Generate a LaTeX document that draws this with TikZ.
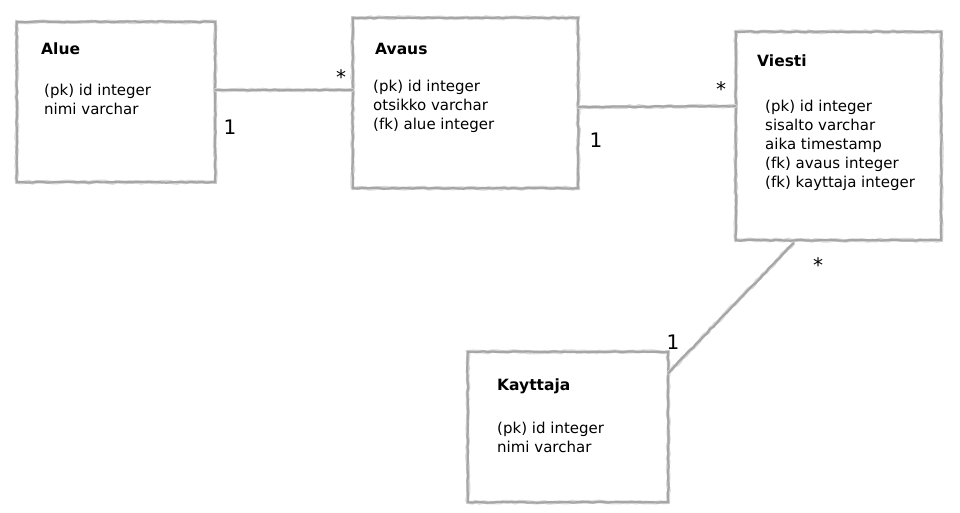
\documentclass[tikz,border=0pt]{standalone}
\usepackage{fontspec}
\setmainfont{DejaVu Sans}
\usetikzlibrary{decorations.pathmorphing}
\tikzset{
  x=1pt,y=-1pt,
  ebox/.style={rectangle,draw=none,inner sep=0pt},
  sketch/.style={draw=gray!70,line width=2.2pt,line cap=round,
    decorate,decoration={random steps,segment length=5pt,amplitude=0.5pt}},
  sketchsoft/.style={draw=gray!30,line width=3.6pt,line cap=round,
    decorate,decoration={random steps,segment length=4pt,amplitude=0.8pt}},
  ttl/.style={anchor=west,inner sep=0pt,font=\fontsize{15.5}{18}\selectfont\bfseries},
  attr/.style={anchor=north west,inner sep=0pt,align=left,font=\fontsize{15}{19}\selectfont},
  mult/.style={inner sep=0pt,font=\fontsize{20}{22}\selectfont},
}
\begin{document}
\begin{tikzpicture}
\useasboundingbox (0,0) rectangle (960,512);
% boxes
\node[ebox,minimum width=198pt,minimum height=160pt] (alue) at (116,102) {};
\node[ebox,minimum width=225pt,minimum height=170pt] (avaus) at (465.5,103) {};
\node[ebox,minimum width=205pt,minimum height=208pt] (viesti) at (838.5,136) {};
\node[ebox,minimum width=200pt,minimum height=150pt] (kayttaja) at (568,427) {};
\foreach \b in {alue,avaus,viesti,kayttaja}{
  \draw[sketchsoft] (\b.north west) rectangle (\b.south east);
  \draw[sketch] (\b.north west) rectangle (\b.south east);
}
% texts
\node[ttl] (alueT) at (41,49) {Alue};
\node[attr] (alueA) at (44,84) {(pk) id integer\\nimi varchar};
\node[ttl] (avausT) at (375,49) {Avaus};
\node[attr] (avausA) at (373,80) {(pk) id integer\\otsikko varchar\\(fk) alue integer};
\node[ttl] (viestiT) at (757,61) {Viesti};
\node[attr] (viestiA) at (765,100) {(pk) id integer\\sisalto varchar\\aika timestamp\\(fk) avaus integer\\(fk) kayttaja integer};
\node[ttl] (kayttajaT) at (497,386) {Kayttaja};
\node[attr] (kayttajaA) at (497,422) {(pk) id integer\\nimi varchar};
% connectors
\draw[sketchsoft] ([yshift=12pt]alue.east) -- ([yshift=13pt]avaus.west);
\draw[sketch] ([yshift=12pt]alue.east) -- ([yshift=13pt]avaus.west);
\draw[sketchsoft] ([yshift=-4pt]avaus.east) -- ([yshift=30pt]viesti.west);
\draw[sketch] ([yshift=-4pt]avaus.east) -- ([yshift=30pt]viesti.west);
\draw[sketchsoft] ([xshift=-45pt,yshift=-3pt]viesti.south) -- ([yshift=54pt]kayttaja.east);
\draw[sketch] ([xshift=-45pt,yshift=-3pt]viesti.south) -- ([yshift=54pt]kayttaja.east);
% multiplicities
\node[mult] (m1) at (230,127) {1};
\node[mult] (m2) at (341,77) {*};
\node[mult] (m3) at (596,140) {1};
\node[mult] (m4) at (721,89) {*};
\node[mult] (m5) at (818,265) {*};
\node[mult] (m6) at (673,342) {1};
\end{tikzpicture}
\end{document}
